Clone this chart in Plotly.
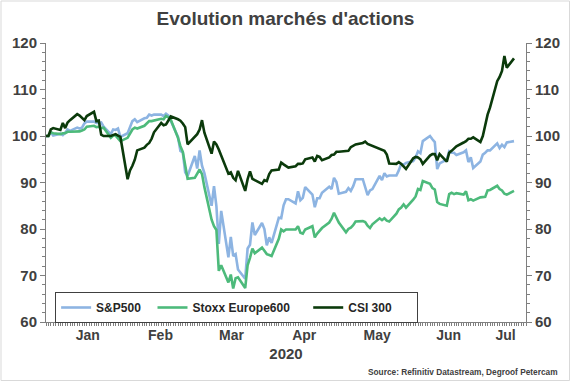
import pandas as pd
import plotly.graph_objects as go

# ---------------- data (index, 31/12/2019 = 100), business days ----------------
dates = pd.bdate_range("2019-12-31", "2020-07-13")

sp_dec = [100.0]
sp_jan = [100.0, 100.8, 100.1, 100.5, 100.2, 100.7, 101.4, 101.1,
          101.8, 101.6, 101.8, 102.7, 103.1,
          103.1, 102.8, 102.8, 102.9, 102.0,
          100.4, 101.4, 101.3, 101.6, 99.8]
sp_feb = [100.6, 102.1, 103.2, 103.6, 103.0,
          103.8, 103.9, 104.6, 104.4, 104.6,
          104.6, 104.3, 104.8, 104.4, 103.3,
          99.8, 96.8, 96.5, 92.2, 91.4]
sp_mar = [95.7, 93.0, 96.9, 93.6, 92.0,
          85.0, 89.2, 84.9, 76.8, 83.9,
          73.9, 78.3, 74.2, 74.6, 71.3,
          69.3, 75.8, 76.6, 81.4, 78.7,
          81.3, 80.0]
sp_apr = [76.5, 78.2, 77.0,
          82.4, 82.3, 85.1, 86.4, 86.4,
          85.5, 88.1, 86.2, 86.7, 89.0,
          87.4, 84.7, 86.6, 86.6, 87.8,
          89.1, 88.6, 91.0, 90.1]
sp_may = [87.6,
          88.0, 88.8, 88.2, 89.2, 90.7,
          90.7, 88.8, 87.3, 88.3, 88.6,
          91.4, 90.5, 92.0, 91.3, 91.5,
          91.5, 92.6, 94.0, 93.8, 94.2]
sp_jun = [94.6, 95.4, 96.7, 96.3, 98.9,
          100.0, 99.3, 98.7, 92.9, 94.1,
          94.9, 96.7, 96.4, 96.4, 95.9,
          96.5, 96.9, 94.4, 95.4, 93.1,
          94.5, 96.0]
sp_jul = [96.4, 96.9, 96.9,
          98.4, 97.4, 98.1, 97.6, 98.6,
          98.9]

sx_dec = [100.0]
sx_jan = [100.0, 100.8, 100.6, 100.4, 100.6, 100.6, 100.9, 100.9,
          100.9, 101.0, 101.2, 101.4, 102.0,
          102.2, 101.9, 102.0, 101.7, 101.8,
          99.6, 100.1, 100.1, 99.6, 98.9]
sx_feb = [99.6, 100.4, 101.4, 101.8, 101.6,
          102.2, 102.6, 103.2, 103.2, 103.3,
          103.7, 103.6, 104.3, 104.0, 103.5,
          99.6, 97.8, 96.6, 93.4, 90.8]
sx_mar = [91.0, 92.0, 92.8, 91.8, 89.0,
          82.0, 80.6, 79.8, 71.0, 72.2,
          68.5, 70.2, 67.2, 69.4, 69.6,
          67.3, 72.2, 73.8, 75.8, 74.8,
          76.0, 75.3]
sx_apr = [74.6, 74.4, 74.2,
          77.9, 79.9, 79.5, 79.9, 79.9,
          79.9, 80.6, 79.2, 79.0, 79.9,
          80.6, 78.2, 79.0, 79.6, 80.2,
          81.4, 82.2, 83.5, 82.4]
sx_may = [81.4,
          79.3, 80.0, 80.3, 80.8, 81.6,
          81.7, 81.5, 80.7, 80.2, 81.0,
          82.3, 81.9, 82.3, 81.8, 81.6,
          83.3, 84.2, 84.6, 85.3, 84.6]
sx_jun = [86.3, 87.0, 88.6, 88.4, 90.3,
          89.7, 88.8, 88.5, 85.8, 85.4,
          85.0, 87.5, 87.8, 87.5, 87.7,
          87.4, 88.1, 86.2, 86.4, 86.1,
          86.8, 86.9]
sx_jul = [86.9, 88.3, 88.4,
          89.3, 88.6, 88.3, 87.6, 87.4,
          88.2]

csi_dec = [100.0]
csi_jan = [100.0, 101.4, 101.7, 101.3, 102.8, 101.7, 102.9, 103.4,
           104.7, 104.4, 103.9, 103.4, 104.3,
           105.2, 103.2, 103.3, 100.3, 100.0,
           100.0, 100.2, 100.4, 100.1, 99.8]
csi_feb = [90.7, 92.6, 93.6, 94.9, 96.9,
           97.5, 98.1, 98.5, 99.4, 100.8,
           102.8, 102.3, 102.5, 103.4, 104.2,
           103.6, 103.3, 102.7, 101.9, 98.2]
csi_mar = [100.0, 100.4, 101.4, 103.4, 100.7,
           96.2, 98.8, 98.2, 97.1, 95.7,
           91.9, 92.2, 91.0, 90.5, 92.5,
           88.2, 90.7, 92.4, 90.8, 90.5,
           89.7, 90.5]
csi_apr = [90.3, 91.8, 92.6,
           92.8, 94.3, 93.9, 93.6, 93.2,
           93.5, 94.0, 94.0, 94.1, 95.0,
           95.4, 94.5, 95.7, 95.5, 94.8,
           95.4, 95.9, 96.0, 96.6]
csi_may = [96.6,
           96.8, 96.8, 97.6, 98.0, 98.2,
           98.5, 98.8, 98.3, 98.1, 97.8,
           97.3, 97.1, 96.8, 96.0, 94.1,
           94.0, 94.4, 94.0, 93.5, 92.9]
csi_jun = [95.2, 95.5, 95.4, 95.0, 94.0,
           95.8, 96.1, 96.1, 94.8, 96.1,
           94.5, 96.4, 96.8, 97.2, 97.8,
           98.6, 98.9, 99.4, 99.4, 99.7,
           98.7, 100.0]
csi_jul = [102.7, 104.6, 106.1,
           111.8, 112.7, 114.0, 117.2, 114.7,
           116.7]

sp500 = sp_dec + sp_jan + sp_feb + sp_mar + sp_apr + sp_may + sp_jun + sp_jul
stoxx600 = sx_dec + sx_jan + sx_feb + sx_mar + sx_apr + sx_may + sx_jun + sx_jul
csi300 = csi_dec + csi_jan + csi_feb + csi_mar + csi_apr + csi_may + csi_jun + csi_jul
assert len(sp500) == len(dates) == len(stoxx600) == len(csi300)

series_names = ["S&P500", "Stoxx Europe600", "CSI 300"]
month_labels = ["Jan", "Feb", "Mar", "Apr", "May", "Jun", "Jul"]
month_label_pos = ["2020-01-17 10:00", "2020-02-16 17:00", "2020-03-17 07:00",
                   "2020-04-16 14:00", "2020-05-17 00:00", "2020-06-15 19:00",
                   "2020-07-09 12:00"]
y_ticks = [60, 70, 80, 90, 100, 110, 120]

# ---------------- figure ----------------
FONT = "Liberation Sans, Arial, sans-serif"
TXT = "#404040"
AX = "#7f7f7f"
NB = "\u00a0"

colors = ["#8db4e2", "#4dba7b", "#0b3a0b"]
values = [sp500, stoxx600, csi300]
legend_pad = [NB * 2, NB * 4, NB * 6]

fig = go.Figure()
for name, pad, vals, col in zip(series_names, legend_pad, values, colors):
    fig.add_trace(go.Scatter(x=dates, y=vals, mode="lines", name=name + pad,
                             line=dict(color=col, width=2.6)))
# helper trace for right axis
fig.add_trace(go.Scatter(x=[dates[0]], y=[None], yaxis="y2", showlegend=False,
                         hoverinfo="skip", mode="lines"))

yaxis_common = dict(
    range=[60, 120], tickmode="array", tickvals=y_ticks,
    ticktext=[str(v) for v in y_ticks],
    ticks="outside", ticklen=5, tickwidth=1, tickcolor=AX,
    showline=True, linecolor=AX, linewidth=1,
    showgrid=False, zeroline=False, automargin=False,
    minor=dict(dtick=2, tick0=60, ticks="outside", ticklen=3, tickcolor=AX, tickwidth=1),
    tickfont=dict(family=FONT, size=15, color=TXT, weight="bold"),
    fixedrange=True,
)

fig.update_layout(
    width=571, height=382,
    margin=dict(l=46, r=45, t=43, b=60, autoexpand=False),
    paper_bgcolor="white", plot_bgcolor="white",
    font=dict(family=FONT, color=TXT),
    title=dict(text="Evolution marchés d'actions", x=0.5, xanchor="center",
               y=1 - 18 / 382, yanchor="middle",
               font=dict(family=FONT, size=19, color=TXT, weight="bold")),
    xaxis=dict(
        type="date", range=["2019-12-31", "2020-07-18"],
        tickmode="array", tickvals=month_label_pos, ticktext=month_labels,
        ticks="", showline=True, linecolor=AX, linewidth=1,
        showgrid=False, zeroline=False, automargin=False, fixedrange=True,
        minor=dict(tickmode="linear", tick0="2019-12-31", dtick=86400000,
                   ticks="outside", ticklen=3, tickcolor=AX, tickwidth=1),
        tickfont=dict(family=FONT, size=14, color=TXT, weight="bold"),
        title=dict(text="2020", standoff=6,
                   font=dict(family=FONT, size=15, color=TXT, weight="bold")),
    ),
    yaxis=yaxis_common,
    yaxis2=dict(overlaying="y", side="right", **yaxis_common),
    showlegend=True,
    legend=dict(orientation="h", x=0.019, xanchor="left",
                y=(322 - 292) / 279, yanchor="top",
                bgcolor="white", bordercolor="#404040", borderwidth=1,
                font=dict(family=FONT, size=12, color="#262626", weight="bold"),
                itemwidth=30),
)

fig.add_annotation(text="Source: Refinitiv Datastream, Degroof Petercam",
                   xref="paper", yref="paper", x=(560 - 46) / 480, y=(322 - 372) / 279,
                   xanchor="right", yanchor="middle", showarrow=False,
                   font=dict(family=FONT, size=8.3, color=TXT, weight="bold"))

fig.add_shape(type="rect", xref="paper", yref="paper",
              x0=(1 - 46) / 480, x1=(569.5 - 46) / 480,
              y0=(322 - 380.5) / 279, y1=(322 - 1) / 279,
              line=dict(color="#d9d9d9", width=1), fillcolor="rgba(0,0,0,0)", layer="below")

fig.write_html("out.html",
               config={"displayModeBar": False},
               post_script="document.body.style.margin='0';document.body.style.padding='0';")
